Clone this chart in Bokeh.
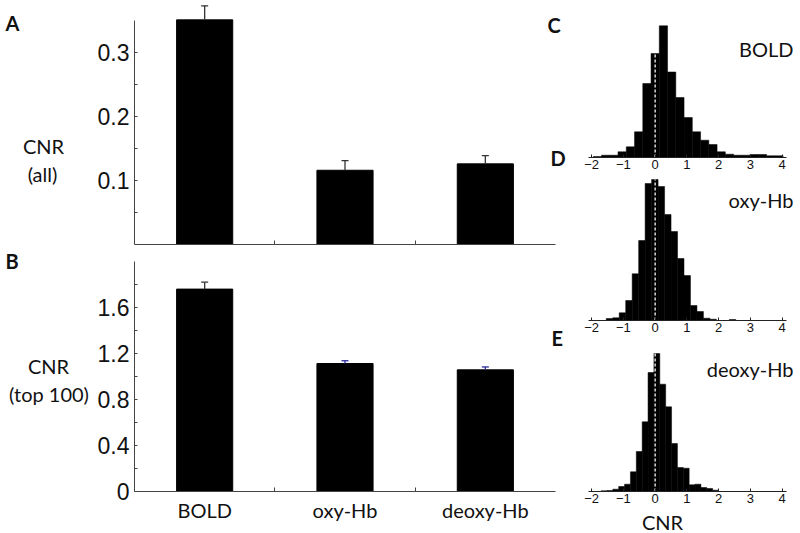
from bokeh.plotting import figure
from bokeh.layouts import row, column
from bokeh.models import Label, FixedTicker, Range1d, LinearAxis
from bokeh.embed import file_html
from bokeh.resources import INLINE

# ---------------- data ----------------
categories = ["BOLD", "oxy-Hb", "deoxy-Hb"]
cnr_all = [0.351, 0.116, 0.126]
cnr_all_err = [0.022, 0.015, 0.013]
cnr_top100 = [1.76, 1.113, 1.058]
cnr_top100_err = [0.06, 0.024, 0.025]

all_ticks = [0.1, 0.2, 0.3]
all_minor_ticks = [0.05, 0.15, 0.25]
top_ticks = [0, 0.4, 0.8, 1.2, 1.6]
top_minor_ticks = [0.2, 0.6, 1.0, 1.4, 1.8]
hist_ticks = [-2, -1, 0, 1, 2, 3, 4]

bold_bin_start = -1.95
bold_bin_width = 0.26
bold_counts = [1.0, 2.3, 2.3, 5.7, 10.7, 25.7, 74, 104, 131.7, 85.5, 60, 40,
               25.7, 17.3, 13, 5.7, 3.3, 2.3, 2.3, 3, 3, 1.7, 1.7]

oxy_bin_start = -1.54
oxy_bin_width = 0.204
oxy_counts = [2, 2.7, 7.7, 20, 46.7, 80, 137, 141, 134, 106, 89, 62, 45,
              15, 9, 2.3, 1.3, 0, 0, 1.0]

deoxy_bin_start = -1.704
deoxy_bin_width = 0.185
deoxy_counts = [0.7, 1.0, 2.3, 5, 7.3, 19.7, 40, 69.7, 119, 138, 107.3, 84.7,
                48, 24, 23.3, 6.7, 7.3, 4, 3, 1.3]

# ---------------- styles ----------------
TXT = "#111111"
AX = "#444444"
LBL_FONT = "Lato"
NUM_FONT = "Liberation Sans"
LABEL_DY = 8  # observed offset of alphabetic-baseline labels


def make_fig(cx0, cy0, w, h, ax_px, ax_data, sx, ay_px, ay_data, sy):
    """Figure whose frame fills its canvas; data ax_data sits at page pixel
    ax_px (sx px per unit), data ay_data at page pixel ay_px (sy px/unit)."""
    x0 = ax_data + (cx0 - ax_px) / sx
    x1 = x0 + w / sx
    y1 = ay_data + (ay_px - cy0) / sy
    y0 = y1 - h / sy
    p = figure(width=w, height=h, x_range=Range1d(x0, x1),
               y_range=Range1d(y0, y1), output_backend="svg",
               toolbar_location=None, tools="", x_axis_location=None,
               y_axis_location=None, min_border=0)
    p.outline_line_color = None
    p.grid.visible = False
    p.background_fill_color = "white"
    p.border_fill_color = "white"

    def to_x(px):
        return ax_data + (px - ax_px) / sx

    def to_y(py):
        return ay_data + (ay_px - (py - LABEL_DY)) / sy
    return p, to_x, to_y


def add_text(p, text, x, y, align="left", size="20px", style="normal"):
    p.add_layout(Label(x=x, y=y, text=text, text_align=align,
                       text_baseline="alphabetic", text_font=LBL_FONT,
                       text_font_size=size, text_font_style=style,
                       text_color=TXT))


LEFT_W = 570
RIGHT_W = 230


def bar_panel(cy0, h, ay_px, sy, values, errs, err_colors, y_top, ticks,
              minor, labels):
    p, tx, ty = make_fig(0, cy0, LEFT_W, h, 134, 0.5, 421 / 3, ay_px, 0, sy)
    xs = [i + 1 for i in range(len(categories))]
    p.vbar(x=xs, top=values, width=0.4, fill_color="black", line_color="black")
    upper = [v + e for v, e in zip(values, errs)]
    p.segment(x0=xs, y0=values, x1=xs, y1=upper, line_color=err_colors,
              line_width=1.3)
    p.scatter(x=xs, y=upper, marker="dash", size=7, line_color=err_colors,
              line_width=1.3)

    ya = LinearAxis(fixed_location=0.5, bounds=(0, y_top),
                    ticker=FixedTicker(ticks=ticks, minor_ticks=minor))
    ya.major_label_overrides = {t: f"{t:g}" for t in ticks}
    ya.major_tick_in = 3
    ya.major_tick_out = 0
    ya.minor_tick_in = 3
    ya.minor_tick_out = 0
    ya.major_label_text_font = NUM_FONT
    ya.major_label_text_font_size = "23px"
    ya.major_label_text_color = TXT
    ya.major_label_standoff = 5
    ya.axis_line_color = AX
    ya.major_tick_line_color = AX
    ya.minor_tick_line_color = AX
    p.add_layout(ya, "left")

    if labels:
        xt = FixedTicker(ticks=xs, minor_ticks=[1.5, 2.5])
    else:
        xt = FixedTicker(ticks=[], minor_ticks=[1.5, 2.5])
    xa = LinearAxis(fixed_location=0, bounds=(0.5, 3.5), ticker=xt)
    if labels:
        xa.major_label_overrides = {x: c for x, c in zip(xs, categories)}
        xa.major_label_text_font = LBL_FONT
        xa.major_label_text_font_size = "20px"
        xa.major_label_text_color = TXT
        xa.major_label_standoff = 6
    xa.major_tick_in = 0
    xa.major_tick_out = 0
    xa.minor_tick_in = 4
    xa.minor_tick_out = 0
    xa.axis_line_color = AX
    xa.minor_tick_line_color = AX
    p.add_layout(xa, "below")
    return p, tx, ty


def hist_panel(cy0, h, base_px, counts, start, bw):
    p, tx, ty = make_fig(LEFT_W, cy0, RIGHT_W, h, 588, -2.1, 200 / 6.3,
                         base_px, 0, 1)
    lefts = [start + i * bw for i in range(len(counts))]
    rights = [l + bw for l in lefts]
    p.quad(left=lefts, right=rights, bottom=0, top=counts,
           fill_color="black", line_color="black", line_width=0.5)
    i0 = next(i for i in range(len(counts)) if lefts[i] <= 0 < rights[i])
    p.segment(x0=[0], y0=[0], x1=[0], y1=[counts[i0]], line_color="#d8d8d8",
              line_dash="3 2", line_width=1.5)
    xa = LinearAxis(fixed_location=0, bounds=(-2.1, 4.15),
                    ticker=FixedTicker(ticks=hist_ticks))
    xa.major_tick_in = 3
    xa.major_tick_out = 0
    xa.minor_tick_in = 0
    xa.minor_tick_out = 0
    xa.major_label_text_font = NUM_FONT
    xa.major_label_text_font_size = "13px"
    xa.major_label_text_color = TXT
    xa.major_label_standoff = 2
    xa.axis_line_color = "#222222"
    xa.major_tick_line_color = "#222222"
    p.add_layout(xa, "below")
    return p, tx, ty


pA, ax_, ay_ = bar_panel(0, 248, 244, 640, cnr_all, cnr_all_err,
                         ["#333333"] * 3, 0.35, all_ticks, all_minor_ticks,
                         False)
pB, bx_, by_ = bar_panel(248, 285, 491, 115, cnr_top100, cnr_top100_err,
                         ["#333333", "#2b2b9a", "#2b2b9a"], 2.0, top_ticks,
                         top_minor_ticks, True)

pC, cx_, cy_ = hist_panel(0, 175, 157, bold_counts, bold_bin_start,
                          bold_bin_width)
pD, dx_, dy_ = hist_panel(175, 173, 320, oxy_counts, oxy_bin_start,
                          oxy_bin_width)
pE, ex_, ey_ = hist_panel(348, 185, 491, deoxy_counts, deoxy_bin_start,
                          deoxy_bin_width)

# panel A texts
add_text(pA, "A", ax_(5), ay_(30), style="bold")
add_text(pA, "CNR", ax_(43), ay_(153), align="center")
add_text(pA, "(all)", ax_(42), ay_(181), align="center")
add_text(pA, "C", ax_(547), ay_(32), style="bold")
add_text(pA, "D", ax_(550), ay_(165), style="bold")

# panel B texts
add_text(pB, "B", bx_(5), by_(268), style="bold")
add_text(pB, "CNR", bx_(48), by_(373), align="center")
add_text(pB, "(top 100)", bx_(48.5), by_(401.5), align="center")
add_text(pB, "E", bx_(551), by_(345), style="bold")

# histogram texts
add_text(pC, "BOLD", cx_(793), cy_(56.5), align="right")
add_text(pD, "oxy-Hb", dx_(793), dy_(207), align="right")
add_text(pE, "deoxy-Hb", ex_(793), ey_(376.5), align="right")
add_text(pE, "CNR", ex_(662), ey_(529), align="center")

layout = row(column(pA, pB), column(pC, pD, pE))

with open("out.html", "w") as f:
    f.write(file_html(layout, INLINE))
